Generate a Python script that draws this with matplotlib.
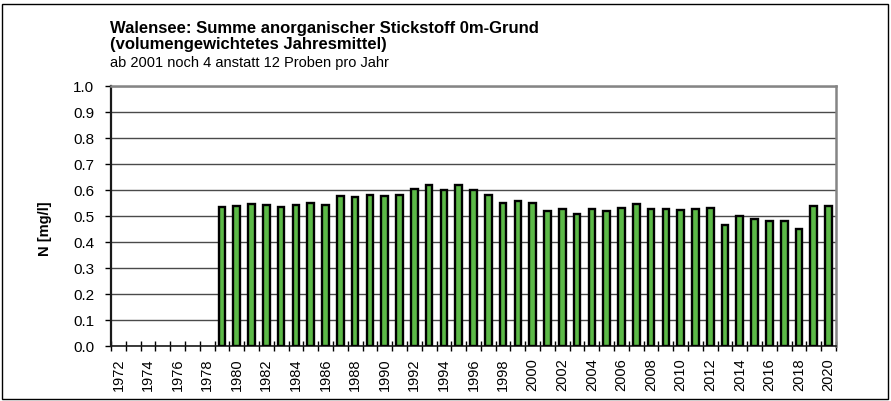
import matplotlib
matplotlib.use("Agg")
import matplotlib.pyplot as plt
from matplotlib.patches import Rectangle
import numpy as np

plt.rcParams['font.family'] = ['Liberation Sans', 'DejaVu Sans']

years = list(range(1972, 2021))
values = [None] * 7 + [
    0.535, 0.540, 0.546, 0.542, 0.535, 0.542, 0.549, 0.544,  # 1979-1986
    0.578, 0.574, 0.581, 0.576, 0.579, 0.603, 0.620, 0.600,  # 1987-1994
    0.619, 0.600, 0.579, 0.550, 0.558, 0.549,                # 1995-2000
    0.520, 0.526, 0.508, 0.526, 0.519, 0.530, 0.545, 0.527,  # 2001-2008
    0.528, 0.524, 0.528, 0.531, 0.464, 0.500, 0.488, 0.479,  # 2009-2016
    0.479, 0.449, 0.540, 0.540,                              # 2017-2020
]
title_lines = ["Walensee: Summe anorganischer Stickstoff 0m-Grund",
               "(volumengewichtetes Jahresmittel)"]
subtitle = "ab 2001 noch 4 anstatt 12 Proben pro Jahr"
ylabel = "N [mg/l]"

W, H = 891, 401
fig = plt.figure(figsize=(W/100, H/100), dpi=100)
L, R, T, B = 111, 836, 86, 346
ax = fig.add_axes([L/W, 1 - B/H, (R-L)/W, (B-T)/H])

x = np.arange(len(years))
xs = [i for i, v in enumerate(values) if v is not None]
vs = [v for v in values if v is not None]
ax.bar(xs, vs, width=0.45, color='#5cb947', edgecolor='black',
       linewidth=1.7, zorder=3)

ax.set_xlim(-0.5, len(years) - 0.5)
ax.set_ylim(0, 1.0)
yt = np.round(np.arange(0, 1.01, 0.1), 1)
ax.set_yticks(yt)
ax.set_yticklabels([f"{v:.1f}" for v in yt], fontsize=11)
ax.yaxis.grid(True, color='#4a4a4a', linewidth=1.0, zorder=0)
ax.set_axisbelow(True)

ax.set_xticks(x[::2])
ax.set_xticklabels([str(y) for y in years[::2]], rotation=90, fontsize=10.5)
ax.tick_params(axis='x', which='major', length=0, pad=9)
ax.set_xticks(np.arange(-0.5, len(years), 1), minor=True)
ax.tick_params(axis='x', which='minor', direction='inout', length=7, width=1.0)
ax.tick_params(axis='y', direction='out', length=4, width=1.0, pad=8)

for s in ['top', 'right']:
    ax.spines[s].set_color('#858585')
    ax.spines[s].set_linewidth(1.8)
ax.spines['left'].set_color('#1a1a1a')
ax.spines['bottom'].set_color('#1a1a1a')
ax.spines['left'].set_linewidth(1.6)
ax.spines['bottom'].set_linewidth(1.2)

fig.text(45/W, 1 - 229/H, ylabel, fontsize=10.5, fontweight='bold', rotation=90,
         ha='center', va='center')

fig.text(110/W, 1 - 28/H, title_lines[0], fontsize=12, fontweight='bold', va='center')
fig.text(110/W, 1 - 45/H, title_lines[1], fontsize=12, fontweight='bold', va='center')
fig.text(110/W, 1 - 63/H, subtitle, fontsize=10.5, va='center')

fig.patches.append(Rectangle((2/W, 2/H), 886/W, 395/H, transform=fig.transFigure,
                             fill=False, edgecolor='black', linewidth=1.0))

fig.savefig("out.png", dpi=100)
